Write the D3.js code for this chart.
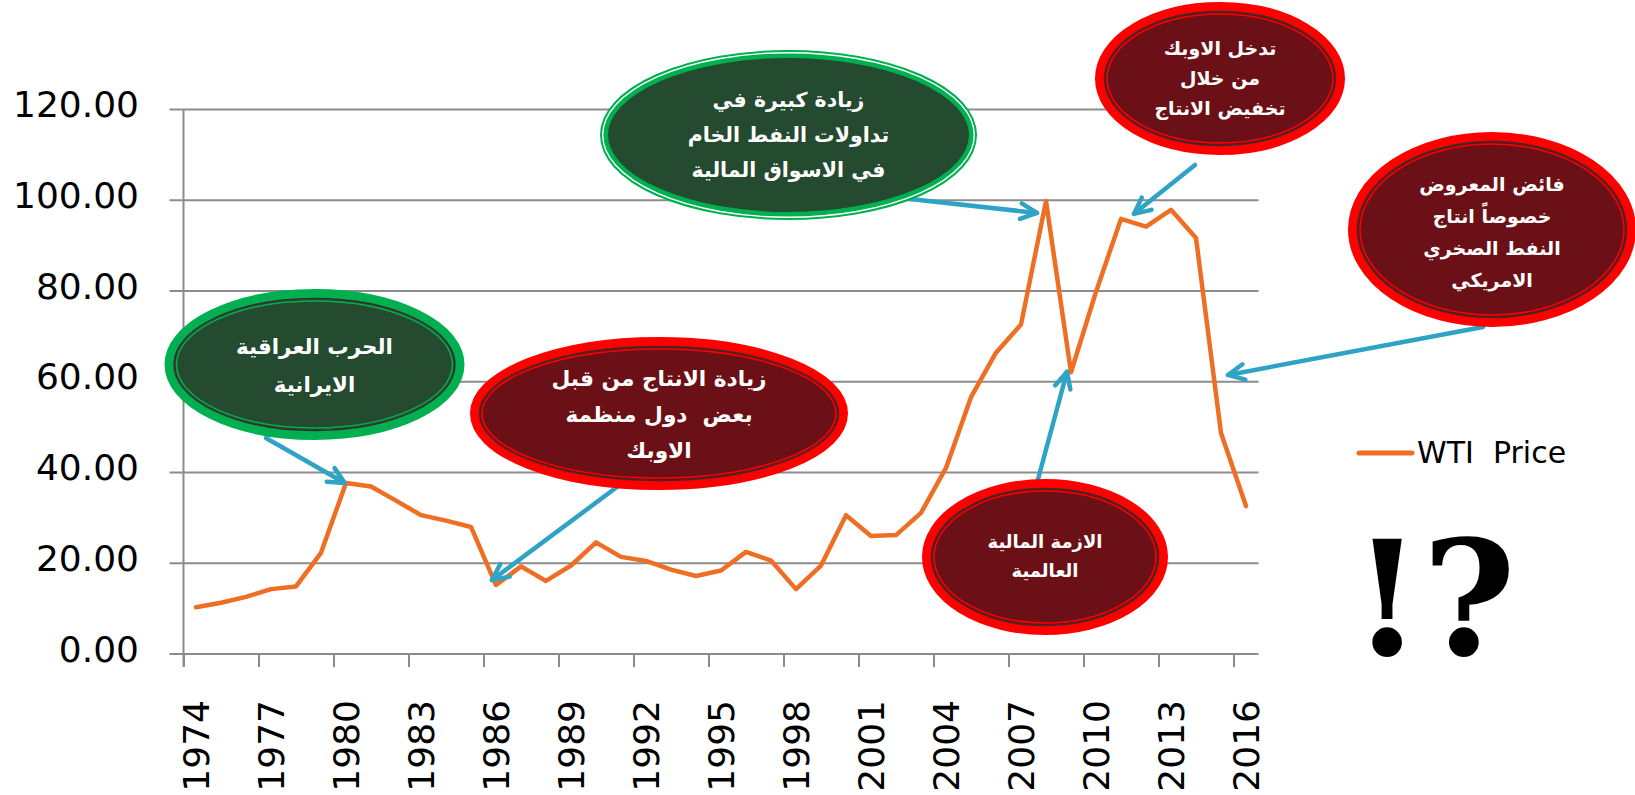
<!DOCTYPE html>
<html>
<head>
<meta charset="utf-8">
<script src="https://cdn.jsdelivr.net/npm/d3@7"></script>
<style>
  html, body { margin: 0; padding: 0; background: #fff; }
  svg { display: block; }
</style>
</head>
<body>
<svg id="chart" width="1635" height="795"></svg>
<script>
// WTI annual average price
var years = [1974, 1975, 1976, 1977, 1978, 1979, 1980, 1981, 1982, 1983,
             1984, 1985, 1986, 1987, 1988, 1989, 1990, 1991, 1992, 1993,
             1994, 1995, 1996, 1997, 1998, 1999, 2000, 2001, 2002, 2003,
             2004, 2005, 2006, 2007, 2008, 2009, 2010, 2011, 2012, 2013,
             2014, 2015, 2016];
var wtiPrice = [10.3, 11.3, 12.6, 14.3, 14.9, 22.3, 37.7, 36.9, 33.8, 30.6,
                29.4, 28.0, 15.2, 19.3, 16.1, 19.5, 24.6, 21.4, 20.5, 18.6,
                17.2, 18.4, 22.5, 20.6, 14.3, 19.5, 30.6, 26.0, 26.2, 31.1,
                41.0, 56.6, 66.4, 72.6, 99.8, 62.1, 79.8, 95.9, 94.2, 97.9,
                91.7, 48.7, 32.6];
var yTicks = [0, 20, 40, 60, 80, 100, 120];
var xTickYears = [1974, 1977, 1980, 1983, 1986, 1989, 1992, 1995, 1998, 2001, 2004, 2007, 2010, 2013, 2016];
var seriesName = 'WTI  Price';

// callouts: text lines, bubble placement, arrow tail (px) and arrow tip (year, price)
var notes = [
    { lines: ['الحرب العراقية', 'الايرانية'], kind: 'green', cx: 314.5, cy: 364.5, rx: 145, ry: 70.5, fs: 21.4, lh: 38, ty: 366, tail: [266, 438], tip: [1979.95, 37.7] },
    { lines: ['زيادة الانتاج من قبل', 'بعض  دول منظمة', 'الاوبك'], kind: 'red', cx: 659, cy: 413.5, rx: 184, ry: 71.5, fs: 21.7, lh: 36, ty: 414, tail: [617, 487], tip: [1985.84, 16.3] },
    { lines: ['زيادة كبيرة في', 'تداولات النفط الخام', 'في الاسواق المالية'], kind: 'green2', cx: 788.5, cy: 135, rx: 184.5, ry: 81, fs: 20.5, lh: 35, ty: 135, tail: [892, 197], tip: [2007.64, 97.2] },
    { lines: ['تدخل الاوبك', 'من خلال', 'تخفيض الانتاج'], kind: 'red', cx: 1220, cy: 78.5, rx: 120, ry: 71.5, fs: 19, lh: 30, ty: 78, tail: [1195, 165], tip: [2011.52, 97] },
    { lines: ['فائض المعروض', 'خصوصاً انتاج', 'النفط الصخري', 'الامريكي'], kind: 'red', cx: 1492, cy: 229.5, rx: 139, ry: 92.5, fs: 19, lh: 32, ty: 232, tail: [1483, 327], tip: [2015.28, 61.5] },
    { lines: ['الازمة المالية', 'العالمية'], kind: 'red', cx: 1045, cy: 557, rx: 118, ry: 73, fs: 18, lh: 29, ty: 556, tail: [1037, 483], tip: [2008.84, 62.2] }
];

var svg = d3.select('#chart');

var x = d3.scaleLinear().domain([1974, 2017]).range([183.5, 1258.5]);
var y = d3.scaleLinear().domain([0, 120]).range([654, 109.5]);
var halfStep = (x(1975) - x(1974)) / 2;

// Grid lines
svg.append('g')
    .selectAll('line')
    .data(yTicks)
    .enter()
    .append('line')
    .attr('x1', x(1974) - 14)
    .attr('x2', x(2017))
    .attr('y1', function (d) { return y(d); })
    .attr('y2', function (d) { return y(d); })
    .attr('stroke', '#8c8c8c')
    .attr('stroke-width', 2);

// Vertical axis line
svg.append('line')
    .attr('x1', x(1974)).attr('x2', x(1974))
    .attr('y1', y(120)).attr('y2', y(0) + 13)
    .attr('stroke', '#8c8c8c')
    .attr('stroke-width', 2);

// Y labels
var yAxis = svg.append('g')
    .attr('transform', 'translate(139,0)')
    .call(d3.axisLeft(y).tickValues(yTicks).tickSize(0).tickPadding(0).tickFormat(d3.format('.2f')));
yAxis.select('.domain').remove();
yAxis.selectAll('text')
    .attr('dy', '0.2em')
    .attr('fill', '#000')
    .style('font-family', '"DejaVu Sans", sans-serif')
    .style('font-size', '36px');

// X axis: ticks on category edges, rotated labels on category centres
var xAxis = svg.append('g')
    .attr('transform', 'translate(0,' + y(0) + ')')
    .call(d3.axisBottom(x).tickValues(xTickYears).tickSize(13).tickFormat(d3.format('d')));
xAxis.select('.domain').remove();
xAxis.selectAll('.tick line').attr('stroke', '#8c8c8c').attr('stroke-width', 2);
xAxis.selectAll('text')
    .attr('transform', 'rotate(-90)')
    .attr('x', -46)
    .attr('y', halfStep)
    .attr('dy', '0.36em')
    .attr('fill', '#000')
    .style('text-anchor', 'end')
    .style('font-family', '"DejaVu Sans", sans-serif')
    .style('font-size', '36px');

// The price line
var line = d3.line()
    .x(function (d, i) { return x(years[i] + 0.5); })
    .y(function (d) { return y(d); });

svg.append('path')
    .datum(wtiPrice)
    .attr('d', line)
    .attr('fill', 'none')
    .attr('stroke', '#ee6f23')
    .attr('stroke-width', 4.5)
    .attr('stroke-linecap', 'round')
    .attr('stroke-linejoin', 'round');

// Legend
svg.append('line')
    .attr('x1', 1359).attr('x2', 1412)
    .attr('y1', 453).attr('y2', 453)
    .attr('stroke', '#ee6f23')
    .attr('stroke-width', 5)
    .attr('stroke-linecap', 'round');
svg.append('text')
    .attr('x', 1417)
    .attr('y', 463)
    .style('font-family', '"DejaVu Sans", sans-serif')
    .style('font-size', '30px')
    .style('white-space', 'pre')
    .attr('fill', '#000')
    .text(seriesName);

// Callouts
var fills = { red: '#6b1016', green: '#244a2f', green2: '#244a2f' };
var rims = { red: '#ff0000', green: '#00b050', green2: '#00b050' };

function drawArrow(n) {
    var tx = x(n.tip[0] + 0.5), ty = y(n.tip[1]);
    var sx = n.tail[0], sy = n.tail[1];
    var ang = Math.atan2(ty - sy, tx - sx);
    var head = 18, spread = 0.45;
    var g = svg.append('g')
        .attr('stroke', '#2fa3c5')
        .attr('stroke-width', 4.5)
        .attr('fill', 'none')
        .attr('stroke-linecap', 'round')
        .attr('stroke-linejoin', 'round');
    g.append('line').attr('x1', sx).attr('y1', sy).attr('x2', tx).attr('y2', ty);
    g.append('path')
        .attr('d', 'M' + (tx - head * Math.cos(ang - spread)) + ',' + (ty - head * Math.sin(ang - spread)) +
            'L' + tx + ',' + ty +
            'L' + (tx - head * Math.cos(ang + spread)) + ',' + (ty - head * Math.sin(ang + spread)));
}

function drawBubble(n) {
    var g = svg.append('g');
    g.append('ellipse')
        .attr('cx', n.cx).attr('cy', n.cy).attr('rx', n.rx).attr('ry', n.ry)
        .attr('fill', fills[n.kind])
        .attr('stroke', rims[n.kind])
        .attr('stroke-width', n.kind === 'green2' ? 8 : 10);
    if (n.kind === 'green2') {
        g.append('ellipse')
            .attr('cx', n.cx).attr('cy', n.cy).attr('rx', n.rx + 1.3).attr('ry', n.ry + 1.3)
            .attr('fill', 'none').attr('stroke', '#fff').attr('stroke-width', 1.4);
    } else {
        g.append('ellipse')
            .attr('cx', n.cx).attr('cy', n.cy).attr('rx', n.rx - 4.5).attr('ry', n.ry - 4.5)
            .attr('fill', 'none').attr('stroke', '#3a2a2a').attr('stroke-width', 1.5);
        g.append('ellipse')
            .attr('cx', n.cx).attr('cy', n.cy).attr('rx', n.rx - 7).attr('ry', n.ry - 7)
            .attr('fill', 'none').attr('stroke', rims[n.kind]).attr('stroke-width', 1.5);
    }
    var top = n.ty - (n.lines.length - 1) * n.lh / 2;
    g.selectAll('text')
        .data(n.lines)
        .enter()
        .append('text')
        .attr('x', n.cx)
        .attr('y', function (d, i) { return top + i * n.lh; })
        .attr('dy', '0.35em')
        .attr('text-anchor', 'middle')
        .attr('direction', 'rtl')
        .attr('fill', '#fff')
        .style('font-family', '"DejaVu Sans", sans-serif')
        .style('font-weight', 'bold')
        .style('font-size', n.fs + 'px')
        .style('white-space', 'pre')
        .text(function (d) { return d; });
}

notes.forEach(drawArrow);
notes.forEach(drawBubble);

// The big "!?"
svg.append('text')
    .attr('x', 1352)
    .attr('y', 655)
    .style('font-family', '"DejaVu Serif", serif')
    .style('font-weight', 'bold')
    .style('font-size', '160px')
    .attr('fill', '#000')
    .text('!?');
</script>
</body>
</html>
